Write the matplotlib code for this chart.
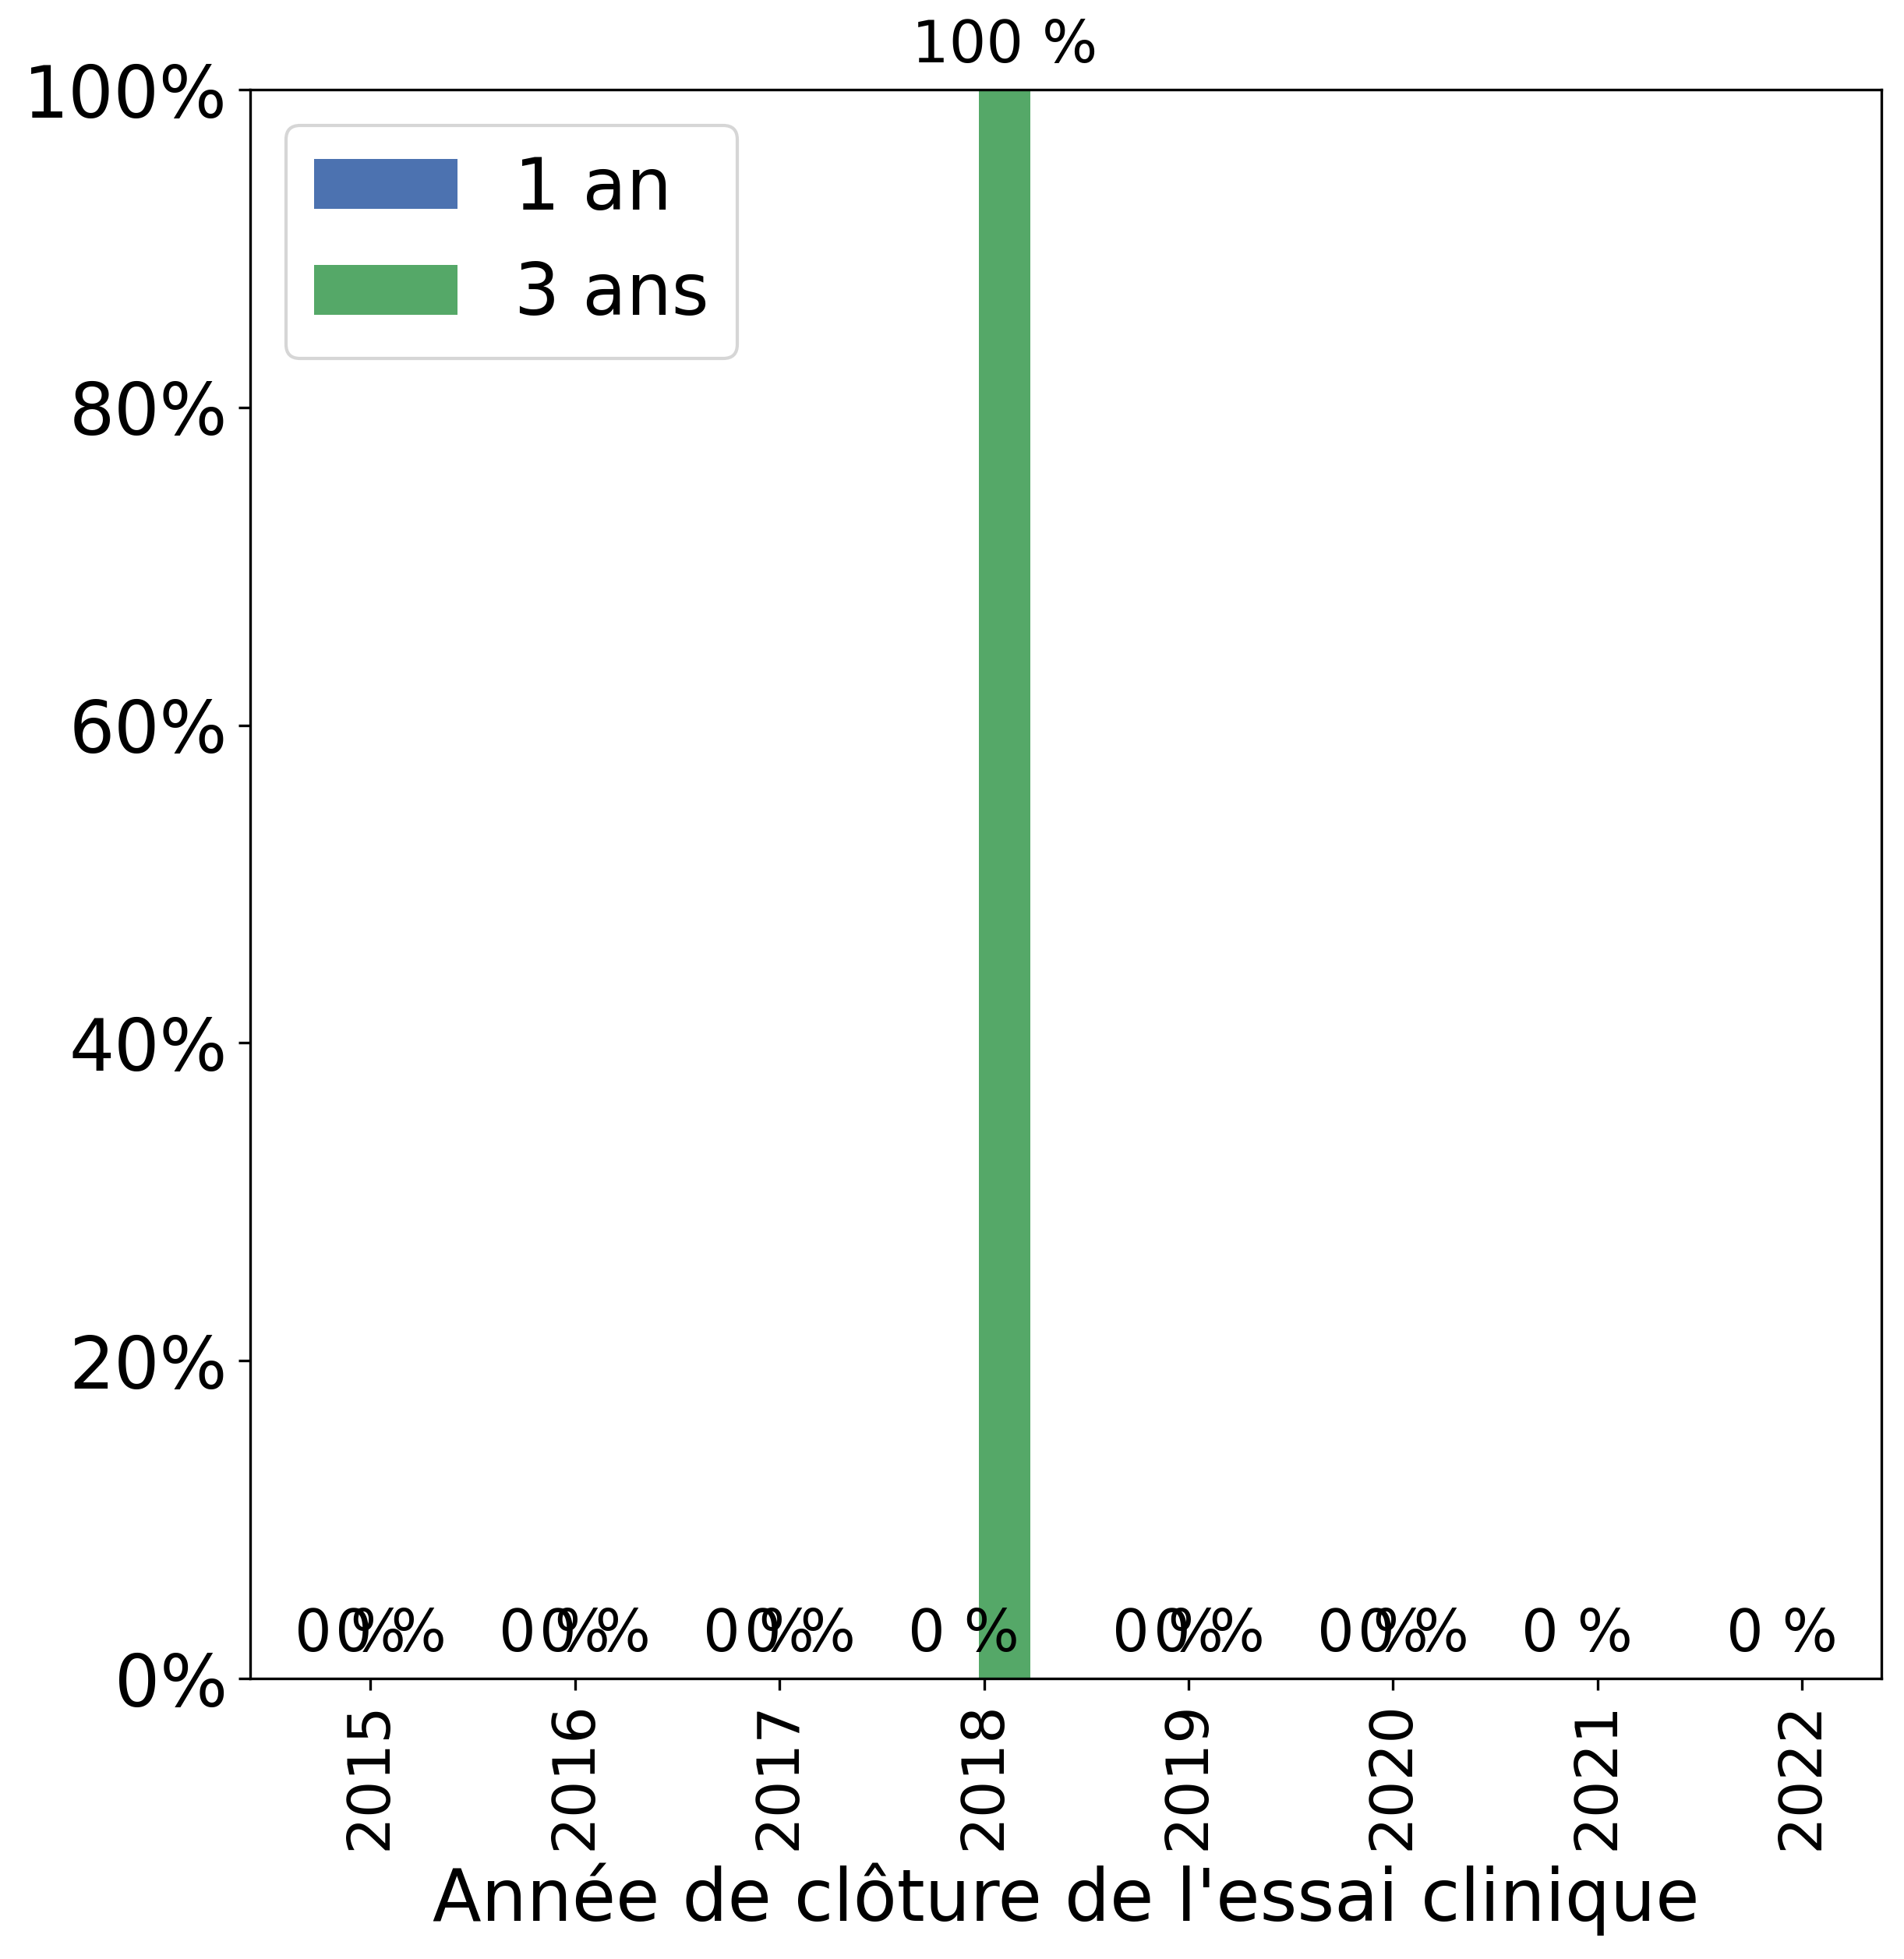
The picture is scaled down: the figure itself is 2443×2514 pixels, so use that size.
import numpy as np
import matplotlib; matplotlib.use("Agg")
import matplotlib.pyplot as plt
from matplotlib.ticker import PercentFormatter

# share of trials with results posted, by closing year
YEARS = ["2015", "2016", "2017", "2018", "2019", "2020", "2021", "2022"]
ONE_YEAR = [0, 0, 0, 0, 0, 0, 0, 0]           # "1 an"
THREE_YEARS = [0, 0, 0, 100, 0, 0]             # "3 ans" (no value yet for 2021-2022)

BLUE, GREEN = "#4C72B0", "#55A868"
W, OFF = 0.25, 0.1

fig = plt.figure(figsize=(2443 / 300, 2514 / 300), dpi=300)
ax = fig.add_axes([321 / 2443, 1 - 2154 / 2514, (2414 - 321) / 2443, (2154 - 115) / 2514])

x1 = np.arange(len(ONE_YEAR))
x3 = np.arange(len(THREE_YEARS))
b1 = ax.bar(x1 - OFF, np.array(ONE_YEAR) / 100, W, color=BLUE, label="1 an")
b3 = ax.bar(x3 + OFF, np.array(THREE_YEARS) / 100, W, color=GREEN, label="3 ans")
ax.bar_label(b1, labels=[f"{v:.0f} %" for v in ONE_YEAR], fontsize=18, padding=4.5)
ax.bar_label(b3, labels=[f"{v:.0f} %" for v in THREE_YEARS], fontsize=18, padding=4.5)

ax.set_ylim(0, 1)
ax.yaxis.set_major_formatter(PercentFormatter(1.0, decimals=0))
ax.set_xticks(x1)
ax.set_xticklabels(YEARS, rotation=90, fontsize=18)
ax.tick_params(axis="y", labelsize=22)
ax.set_xlabel("Année de clôture de l'essai clinique", fontsize=22)
ax.legend(loc="upper left", fontsize=22)

fig.savefig("out.png", dpi=300)
